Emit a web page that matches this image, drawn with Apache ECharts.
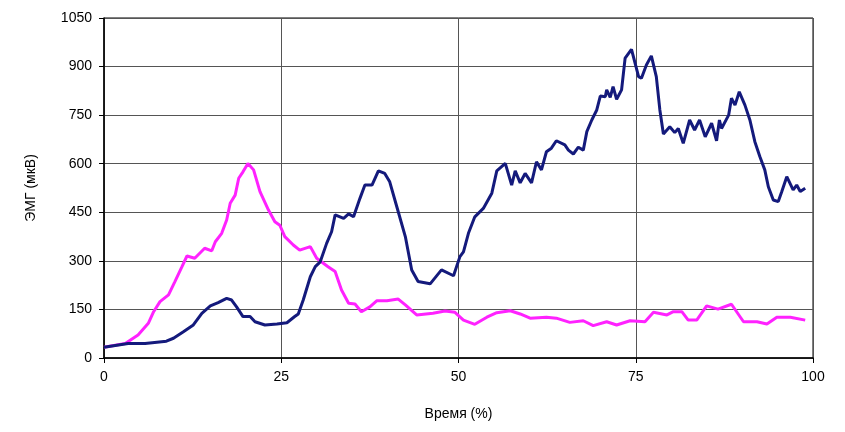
<!DOCTYPE html>
<html><head><meta charset="utf-8">
<script src="https://cdn.jsdelivr.net/npm/echarts@6/dist/echarts.min.js"></script>
<style>html,body{margin:0;padding:0;background:#fff}#c{width:845px;height:432px}</style>
</head><body><div id="c"></div>
<script>
const xTicks = [0, 25, 50, 75, 100];
const yTicks = [0, 150, 300, 450, 600, 750, 900, 1050];
const xTitle = 'Время (%)';
const yTitle = 'ЭМГ (мкВ)';

const magentaT = [0,3.0,4.8,6.25,7.0,7.9,9.1,10.0,11.0,11.7,12.8,14.2,15.2,15.7,16.6,17.3,17.8,18.5,19.0,19.6,20.3,21.1,22.0,23.2,24.1,24.8,25.5,26.7,27.6,29.1,30.0,31.6,32.6,33.5,34.5,35.4,36.3,37.5,38.5,39.9,41.5,42.5,44.1,46.4,48.1,49.5,50.7,52.3,54.0,55.4,57.3,58.7,60.1,62.4,63.8,65.7,67.6,69.0,70.9,72.3,74.2,76.3,77.5,79.4,80.3,81.5,82.4,83.6,85.0,86.6,88.5,90.2,92.1,93.5,94.9,96.8,98.9];
const magentaV = [33,45,71,107,143,174,195,236,282,315,308,339,331,359,385,426,478,503,555,575,601,581,514,457,421,410,375,349,333,344,308,282,267,210,169,167,143,158,177,177,182,164,133,138,145,141,117,104,126,140,146,136,123,126,123,110,115,100,112,102,115,112,141,133,143,143,117,117,161,151,166,112,112,105,126,126,117];

const navyT = [0,3.4,5.8,8.8,9.8,11.2,12.6,13.8,15.0,16.1,17.3,18.0,18.7,19.6,20.6,21.3,22.7,24.4,25.8,26.9,27.4,28.1,29.1,29.8,30.5,31.4,32.1,32.6,33.8,34.5,35.2,36.1,36.8,37.8,38.7,39.6,40.3,41.3,42.5,43.4,44.3,46.0,47.6,49.3,50.2,50.7,51.4,52.3,53.5,54.7,55.4,56.6,57.5,58.0,58.7,59.4,60.3,61.0,61.7,62.4,63.1,63.8,65.0,65.5,66.2,66.9,67.6,68.1,68.8,69.5,70.0,70.7,70.9,71.4,71.8,72.3,73.0,73.5,74.4,75.4,75.8,76.5,77.2,77.9,78.4,78.9,79.8,80.5,81.0,81.7,82.6,83.3,84.0,84.8,85.7,86.4,86.8,87.1,88.1,88.5,89.0,89.6,90.4,91.1,91.8,92.5,93.2,93.7,94.4,95.1,95.6,96.3,97.2,97.7,98.2,98.9];
const navyV = [33,45,45,52,61,81,102,138,161,171,184,179,158,128,128,112,102,105,109,128,136,179,251,282,297,354,390,442,431,445,436,493,534,534,578,570,544,467,375,272,236,229,272,254,313,328,385,436,462,509,578,601,534,578,541,570,541,606,581,637,648,671,658,642,630,651,642,699,735,766,809,807,828,805,838,799,828,926,953,869,864,905,933,869,766,692,714,696,709,663,735,704,735,683,725,671,735,709,750,802,781,822,781,735,668,622,581,529,488,483,514,560,519,534,514,524];

const font = 'Liberation Sans, Arial, sans-serif';
const chart = echarts.init(document.getElementById('c'));
chart.setOption({
  animation: false,
  grid: {left: 104, right: 32, top: 18, bottom: 74, show: true, borderColor: '#000', borderWidth: 1},
  xAxis: {
    type: 'value', min: xTicks[0], max: xTicks[xTicks.length-1], interval: 25,
    name: xTitle, nameLocation: 'middle', nameGap: 49,
    nameTextStyle: {fontFamily: font, fontSize: 14, color: '#000'},
    axisLine: {show: true, lineStyle: {color: '#000', width: 1.5}},
    axisTick: {show: true, length: 5, lineStyle: {color: '#000'}},
    axisLabel: {fontFamily: font, fontSize: 14, color: '#000', margin: 12, formatter: v => String(v)},
    splitLine: {show: true, lineStyle: {color: '#555', width: 1}}
  },
  yAxis: {
    type: 'value', min: yTicks[0], max: yTicks[yTicks.length-1], interval: 150,
    name: yTitle, nameLocation: 'middle', nameGap: 66, nameRotate: 90,
    nameTextStyle: {fontFamily: font, fontSize: 14, color: '#000'},
    axisLine: {show: true, lineStyle: {color: '#000', width: 1.5}},
    axisTick: {show: true, length: 5, lineStyle: {color: '#000'}},
    axisLabel: {fontFamily: font, fontSize: 14, color: '#000', margin: 12, formatter: v => String(v)},
    splitLine: {show: true, lineStyle: {color: '#555', width: 1}}
  },
  series: [
    {type: 'line', data: magentaT.map((t, i) => [t, magentaV[i]]), showSymbol: false,
     lineStyle: {color: '#ff22ff', width: 3}, z: 3},
    {type: 'line', data: navyT.map((t, i) => [t, navyV[i]]), showSymbol: false,
     lineStyle: {color: '#141a7c', width: 3}, z: 4}
  ]
});
</script></body></html>
